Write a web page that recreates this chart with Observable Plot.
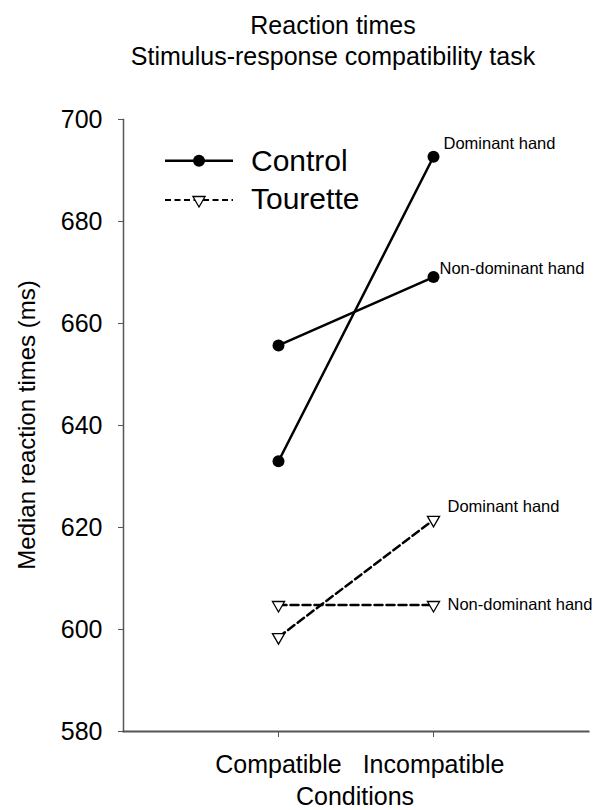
<!DOCTYPE html>
<html><head><meta charset="utf-8">
<script src="https://cdn.jsdelivr.net/npm/d3@7"></script>
<script src="https://cdn.jsdelivr.net/npm/@observablehq/plot@0.6"></script>
<style>
body{margin:0;background:#fff;}
#chart svg{font-family:"Liberation Sans",Arial,Helvetica,sans-serif;}
</style></head><body><div id="chart"></div>
<script>
// ---- data ----
const conditions = ["Compatible", "Incompatible"];
const controlDominant = [633.0, 692.7];
const controlNonDominant = [655.7, 669.1];
const touretteDominant = [598.5, 621.5];
const touretteNonDominant = [604.8, 604.8];
const yTicks = [580, 600, 620, 640, 660, 680, 700];
const groups = ["Control", "Tourette"];
const hands = ["Dominant hand", "Non-dominant hand"];
const titleLines = ["Reaction times", "Stimulus-response compatibility task"];
const xLabel = "Conditions";
const yLabel = "Median reaction times (ms)";

function rows(values, group, hand) {
  return conditions.map((c, i) => ({condition: c, value: values[i], group, hand}));
}
const cd = rows(controlDominant, groups[0], hands[0]);
const cn = rows(controlNonDominant, groups[0], hands[1]);
const td = rows(touretteDominant, groups[1], hands[0]);
const tn = rows(touretteNonDominant, groups[1], hands[1]);

const triangleDown = {
  draw(context, size) {
    const h = Math.sqrt(size / (3 * Math.sqrt(3)));
    const w = Math.sqrt(3) * h;
    context.moveTo(0, 2 * h);
    context.lineTo(-w, -h);
    context.lineTo(w, -h);
    context.closePath();
  }
};

const FONT = '"Liberation Sans",Arial,Helvetica,sans-serif';
const W = 598, H = 810;
const last = d => d.condition === conditions[1];
const labelOpts = {x: "condition", y: "value", text: "hand", filter: last, textAnchor: "start", fontSize: 16.5, fill: "#000"};

const plot = Plot.plot({
  width: W, height: H,
  marginTop: 119, marginBottom: 79, marginLeft: 123, marginRight: 10,
  style: {fontFamily: FONT, color: "#000", background: "#fff", overflow: "visible"},
  x: {type: "point", domain: conditions, padding: 1},
  y: {domain: [580, 700]},
  marks: [
    Plot.axisY({ticks: yTicks, tickSize: 5, tickPadding: 16, fontSize: 25, label: null, stroke: "#555"}),
    Plot.axisX({tickSize: 6, tickPadding: 18, fontSize: 25, label: null, stroke: "#555"}),
    Plot.frame({anchor: "left", stroke: "#555", strokeWidth: 1.5}),
    Plot.frame({anchor: "bottom", stroke: "#555", strokeWidth: 2}),
    Plot.line(cd, {x: "condition", y: "value", stroke: "#000", strokeWidth: 2.5}),
    Plot.line(cn, {x: "condition", y: "value", stroke: "#000", strokeWidth: 2.5}),
    Plot.line(td, {x: "condition", y: "value", stroke: "#000", strokeWidth: 2.5, strokeDasharray: "8,4"}),
    Plot.line(tn, {x: "condition", y: "value", stroke: "#000", strokeWidth: 2.5, strokeDasharray: "8,4"}),
    Plot.dot([...cd, ...cn], {x: "condition", y: "value", r: 6, fill: "#000"}),
    Plot.dot([...td, ...tn], {x: "condition", y: "value", r: 4.5, symbol: triangleDown, fill: "#fff", stroke: "#000", strokeWidth: 1.3}),
    Plot.text(cd, {...labelOpts, dx: 10, dy: -12.7}),
    Plot.text(cn, {...labelOpts, dx: 6, dy: -8.7}),
    Plot.text(td, {...labelOpts, dx: 14, dy: -12.9}),
    Plot.text(tn, {...labelOpts, dx: 14, dy: -0.8})
  ]
});
document.getElementById("chart").appendChild(plot);

// ---- titles, axis labels, legend ----
const svg = d3.select(plot);
const g = svg.append("g").attr("font-family", FONT).attr("fill", "#000");
g.append("text").attr("x", 333).attr("y", 34).attr("text-anchor", "middle").attr("font-size", 25).text(titleLines[0]);
g.append("text").attr("x", 333).attr("y", 65).attr("text-anchor", "middle").attr("font-size", 25).text(titleLines[1]);
g.append("text").attr("x", 355).attr("y", 805).attr("text-anchor", "middle").attr("font-size", 25).text(xLabel);
g.append("text").attr("transform", "translate(35,425) rotate(-90)").attr("text-anchor", "middle").attr("font-size", 24).text(yLabel);

const leg = svg.append("g").attr("font-family", FONT).attr("text-anchor", "start").attr("fill", "#000");
leg.append("line").attr("x1", 165).attr("x2", 233).attr("y1", 160.7).attr("y2", 160.7).attr("stroke", "#000").attr("stroke-width", 2.5);
leg.append("circle").attr("cx", 199).attr("cy", 160.7).attr("r", 6).attr("fill", "#000");
leg.append("text").attr("x", 251).attr("y", 171).attr("font-size", 30).text(groups[0]);
leg.append("line").attr("x1", 165).attr("x2", 233).attr("y1", 200).attr("y2", 200).attr("stroke", "#000").attr("stroke-width", 2).attr("stroke-dasharray", "6,3.5");
leg.append("path").attr("transform", "translate(199,200)").attr("d", d3.symbol(triangleDown, Math.PI * 4.5 * 4.5)()).attr("fill", "#fff").attr("stroke", "#000").attr("stroke-width", 1.3);
leg.append("text").attr("x", 251).attr("y", 208.5).attr("font-size", 30).text(groups[1]);
</script>
</body></html>
